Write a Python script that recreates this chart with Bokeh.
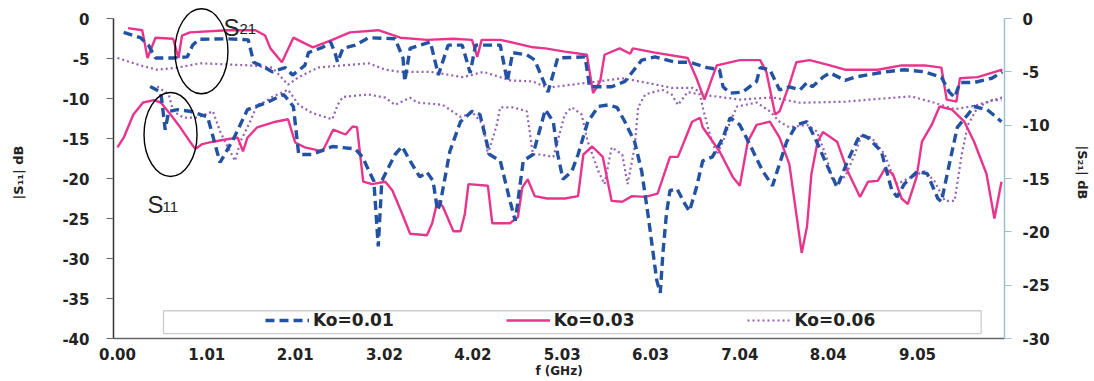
from bokeh.plotting import figure
from bokeh.models import Range1d, LinearAxis, FixedTicker, Legend, LegendItem, Label, BoxAnnotation
from bokeh.embed import file_html
from bokeh.resources import INLINE

# ---------------- data ----------------
x_tick_labels = ["0.00", "1.01", "2.01", "3.02", "4.02", "5.03", "6.03", "7.04", "8.04", "9.05"]
left_ticks = [0, -5, -10, -15, -20, -25, -30, -35, -40]
right_ticks = [0, -5, -10, -15, -20, -25, -30]

# Ko = 0.03, |S21| (right axis)
f_s21_k03 = [0.12, 0.28, 0.34, 0.43, 0.63, 0.69, 0.73, 0.82, 1.24, 1.56, 1.67, 1.73, 1.86, 1.99, 2.21,
             2.43, 2.63, 2.95, 3.20, 3.50, 3.80, 4.01, 4.07, 4.12, 4.33, 4.70, 4.84, 5.06, 5.31, 5.38,
             5.46, 5.51, 5.68, 5.80, 5.83, 6.08, 6.45, 6.55, 6.64, 6.73, 6.78, 7.04, 7.27, 7.34, 7.44,
             7.49, 7.60, 7.68, 7.83, 8.06, 8.23, 8.60, 8.87, 9.13, 9.32, 9.38, 9.49, 9.53, 9.73, 10.01]
s21_k03 = [-0.9, -1.1, -3.7, -1.8, -1.9, -3.7, -1.6, -1.3, -1.1, -1.1, -1.6, -2.8, -4.1, -1.8, -2.7,
           -2.0, -1.3, -1.1, -1.8, -2.0, -1.9, -2.0, -3.6, -2.0, -2.0, -2.7, -2.8, -3.1, -3.4, -7.0,
           -5.9, -3.4, -2.8, -3.3, -2.8, -3.2, -3.7, -5.6, -7.6, -5.5, -4.4, -3.9, -3.9, -5.0, -9.0,
           -8.7, -6.2, -4.1, -3.9, -4.4, -4.8, -4.8, -4.4, -4.4, -4.6, -7.6, -7.8, -5.6, -5.5, -4.8]

# Ko = 0.01, |S21| (right axis)
f_s21_k01 = [0.07, 0.26, 0.35, 0.43, 0.63, 0.79, 0.85, 0.92, 1.24, 1.48, 1.54, 1.67, 1.75, 1.90, 1.98,
             2.12, 2.16, 2.32, 2.41, 2.46, 2.49, 2.55, 2.69, 2.84, 3.14, 3.23, 3.25, 3.31, 3.54, 3.63,
             3.74, 3.90, 3.99, 4.05, 4.33, 4.41, 4.47, 4.63, 4.72, 4.87, 4.98, 5.29, 5.34, 5.59, 5.74,
             5.93, 6.08, 6.31, 6.47, 6.67, 6.81, 6.85, 6.93, 7.07, 7.23, 7.27, 7.38, 7.49, 7.60, 7.72,
             7.80, 7.86, 7.98, 8.06, 8.23, 8.34, 8.68, 8.90, 9.13, 9.32, 9.41, 9.47, 9.53, 9.69, 9.89,
             10.01]
s21_k01 = [-1.3, -1.8, -2.5, -3.7, -3.7, -3.6, -2.5, -1.95, -1.9, -2.0, -4.1, -4.6, -5.0, -4.6, -5.3,
           -4.4, -3.2, -2.7, -2.2, -3.2, -4.1, -2.8, -2.5, -1.8, -1.9, -3.7, -5.9, -2.8, -2.2, -5.3,
           -2.5, -2.5, -5.1, -2.5, -2.5, -5.9, -3.2, -3.4, -3.9, -6.9, -3.7, -3.6, -6.4, -6.4, -5.9,
           -3.9, -3.6, -4.1, -4.1, -4.6, -4.8, -6.4, -7.0, -6.9, -5.9, -4.6, -4.8, -6.7, -6.4, -6.7,
           -6.0, -6.4, -5.5, -5.1, -5.8, -5.5, -5.0, -4.8, -5.0, -5.5, -6.9, -7.4, -6.0, -6.0, -5.6,
           -5.0]

# Ko = 0.06, |S21| (right axis)
f_s21_k06 = [0.0, 0.26, 0.45, 0.68, 0.94, 1.50, 1.75, 1.93, 2.05, 2.27, 2.54, 2.84, 3.03, 3.20, 3.54,
             3.91, 4.14, 4.44, 4.70, 4.86, 5.14, 5.44, 5.71, 5.97, 6.27, 6.50, 6.67, 7.04, 7.41, 7.72,
             8.23, 8.51, 8.98, 9.24, 9.47, 9.69, 10.01]
s21_k06 = [-3.7, -4.4, -4.8, -4.6, -4.2, -4.4, -4.6, -6.2, -5.5, -4.6, -4.4, -4.2, -4.8, -5.0, -5.0,
           -5.5, -5.0, -5.8, -5.9, -6.5, -6.2, -5.9, -5.6, -6.0, -6.5, -6.5, -7.2, -7.6, -7.4, -7.9,
           -7.8, -7.6, -7.3, -7.9, -8.5, -8.2, -7.4]

# Ko = 0.03, |S11| (left axis)
f_s11_k03 = [0.0, 0.07, 0.18, 0.29, 0.41, 0.49, 0.60, 0.71, 0.82, 0.88, 0.96, 1.08, 1.24, 1.36, 1.42,
             1.47, 1.58, 1.67, 1.79, 1.93, 2.01, 2.12, 2.32, 2.44, 2.58, 2.66, 2.71, 2.78, 2.88, 3.03,
             3.11, 3.22, 3.31, 3.50, 3.56, 3.62, 3.68, 3.80, 3.88, 3.93, 3.97, 4.19, 4.24, 4.44, 4.53,
             4.58, 4.64, 4.72, 4.86, 5.06, 5.21, 5.27, 5.37, 5.49, 5.59, 5.71, 5.82, 5.97, 6.11, 6.25,
             6.34, 6.50, 6.59, 6.62, 6.81, 6.96, 7.04, 7.13, 7.23, 7.38, 7.49, 7.60, 7.69, 7.74, 7.80,
             7.85, 7.92, 7.98, 8.14, 8.26, 8.40, 8.49, 8.60, 8.68, 8.77, 8.87, 8.94, 9.04, 9.10, 9.21,
             9.30, 9.44, 9.58, 9.69, 9.83, 9.92, 10.00]
s11_k03 = [-16.1, -14.9, -12.0, -10.5, -10.2, -10.5, -12.0, -13.6, -15.4, -16.3, -15.7, -15.4, -15.1, -14.9, -16.6,
           -14.9, -13.6, -13.3, -12.9, -12.6, -15.5, -16.1, -16.6, -13.9, -14.5, -13.5, -13.6, -20.4, -20.7, -20.4,
           -21.5, -24.4, -26.9, -27.1, -25.6, -22.8, -23.5, -26.6, -26.6, -24.4, -20.7, -20.9, -25.6, -25.6, -24.8,
           -21.1, -20.1, -22.2, -22.5, -22.5, -22.2, -17.0, -16.0, -17.3, -22.8, -22.9, -22.2, -22.3, -21.9, -17.3,
           -17.3, -12.9, -12.4, -13.6, -16.6, -19.8, -20.9, -15.4, -13.3, -12.9, -14.9, -18.2, -25.3, -29.3, -26.0,
           -19.4, -15.4, -14.2, -15.4, -19.1, -22.3, -20.4, -20.3, -18.8, -19.4, -22.5, -23.2, -19.8, -15.4, -13.3,
           -11.0, -11.4, -12.9, -15.4, -19.4, -25.0, -20.4]

# Ko = 0.01, |S11| (left axis)
f_s11_k01 = [0.37, 0.49, 0.54, 0.58, 0.68, 0.82, 1.02, 1.16, 1.31, 1.47, 1.69, 1.88, 1.99, 2.05, 2.20,
             2.43, 2.69, 2.77, 2.86, 2.90, 2.95, 2.99, 3.14, 3.22, 3.31, 3.42, 3.50, 3.57, 3.62, 3.65,
             3.76, 3.88, 4.01, 4.10, 4.21, 4.33, 4.44, 4.50, 4.59, 4.70, 4.84, 4.93, 4.98, 5.04, 5.14,
             5.21, 5.32, 5.44, 5.55, 5.65, 5.74, 5.85, 5.93, 6.00, 6.10, 6.14, 6.17, 6.21, 6.25, 6.33,
             6.42, 6.47, 6.55, 6.62, 6.73, 6.85, 6.93, 7.04, 7.15, 7.30, 7.41, 7.57, 7.68, 7.80, 7.91,
             8.02, 8.14, 8.26, 8.40, 8.49, 8.64, 8.76, 8.82, 8.90, 9.05, 9.16, 9.28, 9.32, 9.41, 9.50,
             9.62, 9.69, 9.84, 10.00]
s11_k01 = [-8.5, -9.2, -13.9, -11.6, -11.4, -11.6, -12.3, -18.0, -15.1, -11.4, -10.5, -9.5, -11.0, -17.0, -17.0,
           -16.0, -16.3, -17.3, -19.4, -20.3, -28.5, -20.3, -17.0, -16.0, -17.8, -19.8, -19.2, -20.3, -24.0, -23.2,
           -16.6, -12.9, -11.6, -12.0, -17.0, -17.8, -22.8, -25.3, -17.8, -17.0, -11.4, -12.9, -17.0, -20.1, -19.1,
           -17.0, -12.9, -11.0, -10.8, -11.1, -12.9, -15.4, -19.1, -24.4, -32.7, -34.3, -29.3, -24.4, -21.5, -21.3,
           -23.2, -24.1, -21.1, -17.8, -17.3, -14.9, -12.4, -13.3, -15.7, -19.1, -20.9, -15.4, -13.3, -12.9, -15.4,
           -18.2, -21.1, -17.8, -14.5, -14.9, -16.6, -21.5, -22.3, -20.7, -19.1, -19.4, -22.5, -22.9, -18.2, -13.6,
           -12.0, -11.0, -11.4, -12.9]

# Ko = 0.06, |S11| (left axis)
f_s11_k06 = [0.45, 0.58, 0.63, 0.75, 0.90, 1.08, 1.16, 1.25, 1.33, 1.39, 1.50, 1.58, 1.67, 1.75, 1.93,
             2.05, 2.20, 2.43, 2.49, 2.55, 2.84, 3.03, 3.14, 3.31, 3.39, 3.68, 3.88, 4.02, 4.14, 4.19,
             4.29, 4.33, 4.47, 4.63, 4.70, 4.78, 4.93, 5.06, 5.14, 5.25, 5.32, 5.44, 5.51, 5.59, 5.71,
             5.77, 5.85, 5.89, 5.97, 6.16, 6.27, 6.34, 6.45, 6.59, 6.62, 6.70, 6.78, 6.85, 6.93, 7.01,
             7.23, 7.38, 7.49, 7.60, 7.80, 7.91, 8.02, 8.09, 8.23, 8.34, 8.42, 8.53, 8.68, 8.76, 8.82,
             8.98, 9.13, 9.24, 9.36, 9.47, 9.55, 9.62, 9.73, 9.89, 10.00]
s11_k06 = [-8.5, -9.5, -11.6, -12.4, -12.4, -11.6, -14.1, -16.1, -17.8, -15.4, -12.9, -10.8, -10.4, -9.8, -8.9,
           -10.8, -11.8, -12.6, -10.8, -9.8, -9.5, -9.9, -10.8, -9.9, -10.5, -10.8, -12.3, -11.8, -13.3, -17.0,
           -13.3, -11.1, -11.1, -11.6, -17.0, -17.0, -17.3, -12.0, -11.1, -12.0, -15.4, -19.1, -20.7, -16.1, -17.0,
           -20.7, -16.1, -11.1, -9.5, -8.9, -9.5, -10.8, -9.2, -9.5, -11.1, -14.5, -17.0, -15.4, -12.9, -11.0,
           -10.5, -11.6, -12.9, -13.6, -13.3, -14.1, -17.3, -20.3, -19.8, -17.0, -14.5, -14.9, -17.0, -19.4, -20.7,
           -19.8, -19.1, -20.3, -22.8, -22.8, -17.0, -13.3, -11.1, -10.2, -10.2]

legend_labels = ["Ko=0.01", "Ko=0.03", "Ko=0.06"]

# annotation marks (ellipses around the curve groups), in GHz / left-axis dB
ellipse_f = [0.95, 0.60]
ellipse_db = [-4.1, -14.5]
ellipse_w_px = [53, 53]
ellipse_h_px = [85, 84]
legend_box = dict(left=0.52, right=9.77, bottom=-39.38, top=-36.53)

# ---------------- styling ----------------
BLUE = "#2352a3"
PINK = "#e9348d"
PURPLE = "#9460b8"
TICK_FONT = "DejaVu Sans"

p = figure(width=1092, height=380, output_backend="svg", toolbar_location=None,
           x_range=Range1d(-0.045, 10.034), y_range=Range1d(-40, 1.5),
           min_border_left=113, min_border_right=87, min_border_top=6, min_border_bottom=39)
p.extra_y_ranges = {"s21": Range1d(-30, 1.125)}
p.grid.visible = False
p.outline_line_color = None

# left axis
ly = p.yaxis[0]
ly.bounds = (-40, 0)
ly.ticker = FixedTicker(ticks=left_ticks)
ly.major_label_overrides = {t: str(t) for t in left_ticks}
ly.major_label_text_font = TICK_FONT
ly.major_label_text_font_style = "bold"
ly.major_label_text_font_size = "15px"
ly.major_label_text_color = "#222222"
ly.major_label_standoff = 17
ly.major_tick_out = 7
ly.major_tick_in = 0
ly.minor_tick_out = 0
ly.minor_tick_in = 0
ly.major_tick_line_color = "#666666"
ly.axis_line_color = "#333333"
ly.axis_line_width = 1.5
ly.axis_label = "|S\u2081\u2081| dB"
ly.axis_label_text_font = TICK_FONT
ly.axis_label_text_font_style = "bold"
ly.axis_label_text_font_size = "13px"
ly.axis_label_text_color = "#222222"
ly.axis_label_standoff = 33

# right axis
ry = LinearAxis(y_range_name="s21")
ry.bounds = (-30, 0)
ry.ticker = FixedTicker(ticks=right_ticks)
ry.major_label_overrides = {t: str(t) for t in right_ticks}
ry.major_label_text_font = TICK_FONT
ry.major_label_text_font_style = "bold"
ry.major_label_text_font_size = "15px"
ry.major_label_text_color = "#222222"
ry.major_label_standoff = 11
ry.major_tick_out = 7
ry.major_tick_in = 0
ry.minor_tick_out = 0
ry.minor_tick_in = 0
ry.major_tick_line_color = "#9dbfd3"
ry.axis_line_color = "#9dbfd3"
ry.axis_line_width = 1.5
ry.axis_label = "|S\u2082\u2081| dB"
ry.axis_label_text_font = TICK_FONT
ry.axis_label_text_font_style = "bold"
ry.axis_label_text_font_size = "13px"
ry.axis_label_text_color = "#222222"
ry.axis_label_standoff = 22
p.add_layout(ry, "right")

# bottom axis
bx = p.xaxis[0]
x_tick_pos = [float(s) for s in x_tick_labels]
bx.ticker = FixedTicker(ticks=x_tick_pos)
bx.major_label_overrides = {v: s for v, s in zip(x_tick_pos, x_tick_labels)}
bx.major_label_text_font = TICK_FONT
bx.major_label_text_font_style = "bold"
bx.major_label_text_font_size = "15px"
bx.major_label_text_color = "#222222"
bx.major_label_standoff = 9
bx.major_tick_out = 0
bx.major_tick_in = 0
bx.minor_tick_out = 0
bx.minor_tick_in = 0
bx.axis_line_color = "#666666"
bx.axis_line_width = 1.5
bx.axis_label = "f (GHz)"
bx.axis_label_text_font = TICK_FONT
bx.axis_label_text_font_style = "bold"
bx.axis_label_text_font_size = "12px"
bx.axis_label_text_color = "#222222"
bx.axis_label_standoff = 1

# curves
r_p21 = p.line(f_s21_k06, s21_k06, y_range_name="s21", line_color=PURPLE, line_width=2.2, line_dash="2 3")
r_p11 = p.line(f_s11_k06, s11_k06, line_color=PURPLE, line_width=2.2, line_dash="2 3")
r_k21 = p.line(f_s21_k03, s21_k03, y_range_name="s21", line_color=PINK, line_width=2.4)
r_k11 = p.line(f_s11_k03, s11_k03, line_color=PINK, line_width=2.4)
r_b21 = p.line(f_s21_k01, s21_k01, y_range_name="s21", line_color=BLUE, line_width=3.4, line_dash="9 5")
r_b11 = p.line(f_s11_k01, s11_k01, line_color=BLUE, line_width=3.4, line_dash="9 5")

# ellipses
p.ellipse(x=ellipse_f, y=ellipse_db, width=ellipse_w_px, height=ellipse_h_px,
          width_units="screen", height_units="screen", fill_color=None,
          line_color="black", line_width=1.4)

# S21 / S11 labels
for txt, sub, fx, fy, sx, sy in [("S", "21", 1.20, -1.11, 1.38, -1.30),
                                  ("S", "11", 0.34, -23.28, 0.51, -23.53)]:
    p.add_layout(Label(x=fx, y=fy, text=txt, text_font="Liberation Sans", text_font_size="24px",
                       text_color="#222222", text_baseline="alphabetic"))
    p.add_layout(Label(x=sx, y=sy, text=sub, text_font="Liberation Sans", text_font_size="15px",
                       text_color="#222222", text_baseline="alphabetic"))

# legend box
p.add_layout(BoxAnnotation(left=legend_box["left"], right=legend_box["right"],
                           bottom=legend_box["bottom"], top=legend_box["top"],
                           fill_color="white", fill_alpha=1.0, line_color="#555555", line_width=1.3))

legend = Legend(items=[LegendItem(label=legend_labels[0], renderers=[r_b11]),
                       LegendItem(label=legend_labels[1], renderers=[r_k11]),
                       LegendItem(label=legend_labels[2], renderers=[r_p11])],
                orientation="horizontal", location=(152, 8), padding=0, margin=0,
                spacing=112, glyph_width=44, glyph_height=14, label_height=14, label_standoff=4,
                label_text_font=TICK_FONT, label_text_font_style="bold", label_text_font_size="17px",
                label_text_color="#222222", border_line_alpha=0, background_fill_alpha=0)
p.add_layout(legend)

open("out.html", "w").write(file_html(p, INLINE))
